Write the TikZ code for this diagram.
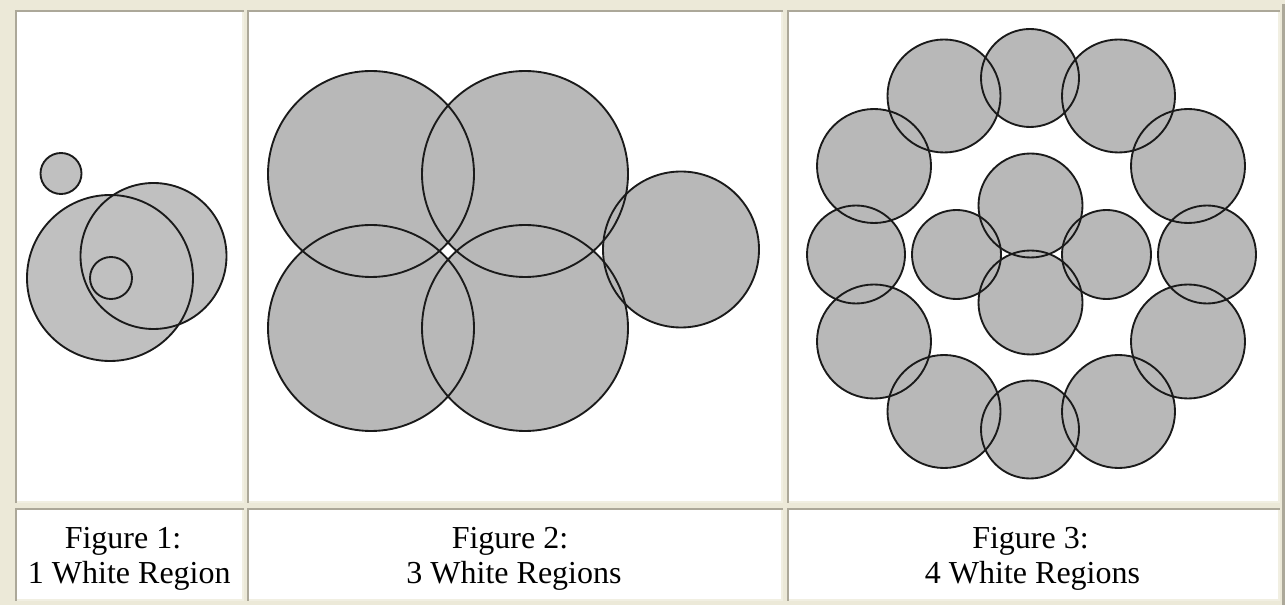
\documentclass[tikz,border=0pt]{standalone}
\usepackage{fontspec}
\setmainfont{Liberation Serif}
\definecolor{bg}{HTML}{ECE9D8}
\definecolor{bdark}{HTML}{ACA899}
\definecolor{blight}{HTML}{F1EFE2}
\definecolor{fillA}{HTML}{C0C0C0}
\definecolor{fillB}{HTML}{B8B8B8}
\definecolor{ink}{HTML}{1A1A1A}
\begin{document}
\begin{tikzpicture}[x=0.75pt,y=-0.75pt,
  captext/.style={font=\fontsize{24}{28}\selectfont, anchor=base, inner sep=0pt},
  disc/.style={draw=ink, line width=1.4pt}]
\fill[bg] (0,0) rectangle (1285,605);
\useasboundingbox (0,0) rectangle (1285,605);
% outer table edge
\fill[bdark] (1282.3,4) rectangle (1285,605);
% cells
\foreach \xa/\xb in {14.7/244.3, 247.3/783, 786.7/1280.3}{
  \foreach \ya/\yb in {10/503.5, 507.7/601.3}{
    \fill[white] (\xa,\ya) rectangle (\xb,\yb);
    \fill[bdark] (\xa,\ya) rectangle (\xb,\ya+2);
    \fill[bdark] (\xa,\ya) rectangle (\xa+2,\yb);
    \fill[blight] (\xb-2,\ya+2) rectangle (\xb,\yb);
    \fill[blight] (\xa+2,\yb-2) rectangle (\xb,\yb);
  }
}
% Figure 1
\foreach \cx/\cy/\r in {61/173.5/20.5, 110/278/83, 153.5/256/73, 111/278/21}
  \fill[fillA] (\cx,\cy) circle[radius=\r];
\foreach \cx/\cy/\r in {61/173.5/20.5, 110/278/83, 153.5/256/73, 111/278/21}
  \draw[disc] (\cx,\cy) circle[radius=\r];
% Figure 2
\foreach \cx/\cy/\r in {371/174/103, 525/174/103, 371/328/103, 525/328/103, 681/249.5/78}
  \fill[fillB] (\cx,\cy) circle[radius=\r];
\foreach \cx/\cy/\r in {371/174/103, 525/174/103, 371/328/103, 525/328/103, 681/249.5/78}
  \draw[disc] (\cx,\cy) circle[radius=\r];
% Figure 3
\foreach \cx/\cy/\r in {1030/78/49, 944/96/56.5, 1118.5/96/56.5, 874/166/57, 1188/166/57,
   856/254.5/49, 1207/254.5/49, 874/341.5/57, 1188/341.5/57, 944/411.5/56.5, 1118.5/411.5/56.5,
   1030/429.5/49, 1030.5/205.5/52, 1030.5/302.5/52, 956.5/254.5/44.5, 1106.5/254.5/44.5}
  \fill[fillB] (\cx,\cy) circle[radius=\r];
\foreach \cx/\cy/\r in {1030/78/49, 944/96/56.5, 1118.5/96/56.5, 874/166/57, 1188/166/57,
   856/254.5/49, 1207/254.5/49, 874/341.5/57, 1188/341.5/57, 944/411.5/56.5, 1118.5/411.5/56.5,
   1030/429.5/49, 1030.5/205.5/52, 1030.5/302.5/52, 956.5/254.5/44.5, 1106.5/254.5/44.5}
  \draw[disc] (\cx,\cy) circle[radius=\r];
% captions
\node[captext] (c1a) at (123,548) {Figure 1:};
\node[captext] (c1b) at (129.3,583.5) {1 White Region};
\node[captext] (c2a) at (510,548) {Figure 2:};
\node[captext] (c2b) at (514,583.5) {3 White Regions};
\node[captext] (c3a) at (1030.5,548) {Figure 3:};
\node[captext] (c3b) at (1032.5,583.5) {4 White Regions};
\end{tikzpicture}
\end{document}
